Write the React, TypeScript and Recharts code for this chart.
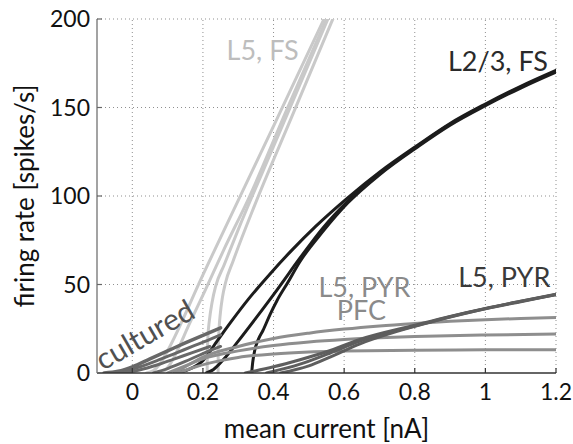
import React from 'react';
import { LineChart, Line, XAxis, YAxis, ReferenceLine, ReferenceDot } from 'recharts';

// ---------- axis ticks ----------
const X_TICKS = [0, 0.2, 0.4, 0.6, 0.8, 1, 1.2];
const Y_TICKS = [0, 50, 100, 150, 200];

// ---------- curves: [mean current (nA), firing rate (spikes/s)] ----------
type P = [number, number];

// L5, FS (light gray)
const l5fs1: P[] = [[0.04, 0], [0.06, 1.4], [0.08, 5.6], [0.1, 12.6], [0.2, 55.5], [0.3, 97.5], [0.4, 139.5], [0.543, 200]];
const l5fs2: P[] = [[0.075, 0], [0.091, 1.2], [0.106, 4.6], [0.122, 10.4], [0.16, 27], [0.207, 47], [0.26, 70], [0.328, 98], [0.44, 150], [0.55, 200]];
const l5fs3: P[] = [[0.212, 0], [0.2123, 10], [0.214, 20], [0.2185, 30], [0.226, 40], [0.236, 49], [0.26, 61], [0.3, 81], [0.4, 128], [0.554, 200]];
const l5fs4: P[] = [[0.243, 0], [0.2433, 12], [0.2455, 24], [0.2495, 34], [0.2555, 43], [0.264, 51], [0.285, 63], [0.347, 95], [0.45, 144], [0.568, 200]];

// L2/3, FS (black)
const l23fs1: P[] = [[0.12, 0], [0.16, 2], [0.2, 7], [0.24, 18], [0.28, 29], [0.33, 42], [0.39, 56], [0.45, 69], [0.52, 83], [0.61, 99], [0.7, 113.5], [0.81, 129], [0.9, 141], [1.0, 152], [1.1, 162], [1.2, 171]];
const l23fs2: P[] = [[0.21, 0], [0.23, 2], [0.26, 8], [0.3, 18], [0.35, 31], [0.41, 47], [0.475, 65], [0.54, 82], [0.61, 97], [0.7, 112.5], [0.81, 128.5], [0.9, 140.5], [1.0, 151.5], [1.1, 161.5], [1.2, 170.5]];
const l23fs3: P[] = [[0.338, 0], [0.341, 6], [0.347, 13], [0.357, 19], [0.37, 24], [0.39, 33], [0.41, 41], [0.44, 51], [0.475, 63], [0.54, 80], [0.61, 96], [0.7, 112], [0.81, 128], [0.9, 140], [1.0, 151], [1.1, 161], [1.2, 170]];

// L5, PYR, PFC (medium gray)
const pfc1: P[] = [[0.12, 0], [0.15, 3.5], [0.2, 9], [0.3, 15], [0.4, 19.5], [0.5, 22.5], [0.6, 24.8], [0.7, 26.6], [0.8, 28], [0.9, 29.2], [1.0, 30.1], [1.1, 30.8], [1.2, 31.3]];
const pfc2: P[] = [[0.1, 0], [0.15, 4], [0.2, 8], [0.3, 12.5], [0.4, 15.5], [0.5, 17.5], [0.6, 18.9], [0.7, 19.9], [0.8, 20.6], [1.0, 21.5], [1.2, 22]];
const pfc3: P[] = [[0.13, 0], [0.18, 3.5], [0.25, 7], [0.3, 8.8], [0.4, 10.8], [0.5, 11.9], [0.6, 12.4], [0.8, 12.9], [1.0, 13.1], [1.2, 13.2]];

// L5, PYR (dark gray)
const pyr1: P[] = [[0.32, 0], [0.4, 3.5], [0.475, 7.5], [0.55, 12], [0.645, 19], [0.8, 27], [0.9, 32], [1.0, 36.5], [1.1, 40.5], [1.2, 44.5]];
const pyr2: P[] = [[0.38, 0], [0.475, 5], [0.55, 10.5], [0.645, 18], [0.8, 26.5], [0.9, 31.8], [1.0, 36.3], [1.1, 40.3], [1.2, 44.3]];
const pyr3: P[] = [[0.42, 0], [0.5, 4], [0.56, 9], [0.645, 16.5], [0.75, 23.5], [0.85, 29], [0.95, 34], [1.05, 38.5], [1.2, 44.2]];

// cultured (dark gray)
const cult1: P[] = [[-0.08, 0], [-0.04, 1], [0, 3.5], [0.05, 8], [0.1, 12.5], [0.15, 17], [0.2, 21.3], [0.25, 25.5]];
const cult2: P[] = [[-0.06, 0], [-0.02, 1], [0.02, 3.4], [0.07, 7], [0.12, 11], [0.17, 15], [0.22, 19], [0.25, 21.5]];
const cult3: P[] = [[-0.03, 0], [0.02, 1.7], [0.07, 4.5], [0.12, 8], [0.17, 11.5], [0.22, 15]];
const cult4: P[] = [[0.06, 0], [0.1, 2.5], [0.15, 6.5], [0.2, 11], [0.25, 15]];

const pts = (a: P[]) => a.map(([x, y]) => ({ x, y }));

const FONT = 'Lato, "Noto Sans", sans-serif';

const C_FS = '#c9c9c9';
const C_BLACK = '#1c1c1c';
const C_PFC = '#8e8e8e';
const C_PYR = '#5e5e5e';
const C_CULT = '#686868';
const C_GRID = '#8f8f8f';

const SERIES: { key: string; data: P[]; color: string; width: number }[] = [
  { key: 'l5fs1', data: l5fs1, color: C_FS, width: 3 },
  { key: 'l5fs2', data: l5fs2, color: C_FS, width: 3 },
  { key: 'l5fs3', data: l5fs3, color: C_FS, width: 3 },
  { key: 'l5fs4', data: l5fs4, color: C_FS, width: 3 },
  { key: 'l23fs1', data: l23fs1, color: C_BLACK, width: 3 },
  { key: 'l23fs2', data: l23fs2, color: C_BLACK, width: 3 },
  { key: 'l23fs3', data: l23fs3, color: C_BLACK, width: 3 },
  { key: 'pfc1', data: pfc1, color: C_PFC, width: 3 },
  { key: 'pfc2', data: pfc2, color: C_PFC, width: 3 },
  { key: 'pfc3', data: pfc3, color: C_PFC, width: 3 },
  { key: 'pyr1', data: pyr1, color: C_PYR, width: 3 },
  { key: 'pyr2', data: pyr2, color: C_PYR, width: 3 },
  { key: 'pyr3', data: pyr3, color: C_PYR, width: 3 },
  { key: 'cult1', data: cult1, color: C_CULT, width: 3.5 },
  { key: 'cult2', data: cult2, color: C_CULT, width: 3 },
  { key: 'cult3', data: cult3, color: C_CULT, width: 3 },
  { key: 'cult4', data: cult4, color: C_CULT, width: 3 },
];

const fmtX = (v: number) => (v === 0 ? '0' : v === 1 ? '1' : String(v));

const XTick = (props: any) => {
  const { x, y, payload } = props;
  return (
    <g>
      <line x1={x} y1={y} x2={x} y2={y - 5} stroke="#333" strokeWidth={1.2} />
      <text x={x} y={y + 27} textAnchor="middle" fontSize={23} fill="#111" fontFamily={FONT}>
        {fmtX(payload.value)}
      </text>
    </g>
  );
};

const YTick = (props: any) => {
  const { x, y, payload } = props;
  return (
    <g>
      <line x1={x} y1={y} x2={x + 5} y2={y} stroke="#666" strokeWidth={1.2} />
      <text x={x - 7} y={y + 8} textAnchor="end" fontSize={23} fill="#111" fontFamily={FONT}>
        {payload.value}
      </text>
    </g>
  );
};

const XTitle = () => (
  <text x={326.5} y={438} textAnchor="middle" fontSize={26} fill="#111" fontFamily={FONT}>
    mean current [nA]
  </text>
);

const YTitle = () => (
  <text x={34} y={196} transform="rotate(-90 34 196)" textAnchor="middle" fontSize={26} fill="#111" fontFamily={FONT}>
    firing rate [spikes/s]
  </text>
);

const annot = (text: string, color: string, size: number, rotate = 0) => (props: any) => {
  const vb = props.viewBox || {};
  const x = vb.x ?? 0;
  const y = vb.y ?? 0;
  return (
    <text
      x={x}
      y={y}
      fontSize={size}
      fill={color}
      fontFamily={FONT}
      textAnchor="start"
      transform={rotate ? `rotate(${rotate} ${x} ${y})` : undefined}
    >
      {text}
    </text>
  );
};

export default function App() {
  return (
    <div style={{ position: 'absolute', left: 0, top: 0, width: 573, height: 444, background: '#fff' }}>
      <LineChart width={573} height={444} margin={{ top: 19, right: 17, left: 0, bottom: 0 }}>
        <XAxis
          dataKey="x"
          type="number"
          domain={[-0.1, 1.2]}
          ticks={X_TICKS}
          interval={0}
          allowDataOverflow
          height={71}
          tickSize={0}
          tickMargin={0}
          tickLine={false}
          tick={XTick}
          axisLine={{ stroke: '#333', strokeWidth: 1.5 }}
          label={XTitle}
        />
        <YAxis
          type="number"
          domain={[0, 200]}
          ticks={Y_TICKS}
          interval={0}
          allowDataOverflow
          width={97}
          tickSize={0}
          tickMargin={0}
          tickLine={false}
          tick={YTick}
          axisLine={{ stroke: '#858585', strokeWidth: 1.5 }}
          label={YTitle}
        />
        {X_TICKS.map((v) => (
          <ReferenceLine key={'gx' + v} x={v} stroke={C_GRID} strokeWidth={1} strokeDasharray="1 3" />
        ))}
        {Y_TICKS.filter((v) => v > 0).map((v) => (
          <ReferenceLine key={'gy' + v} y={v} stroke={C_GRID} strokeWidth={1} strokeDasharray="1 3" />
        ))}
        {SERIES.map((s) => (
          <Line
            key={s.key}
            data={pts(s.data)}
            dataKey="y"
            type="monotone"
            stroke={s.color}
            strokeWidth={s.width}
            dot={false}
            activeDot={false}
            isAnimationActive={false}
            strokeLinecap="round"
          />
        ))}
        <ReferenceDot x={0.267} y={176.8} r={0} fill="none" stroke="none" label={annot('L5, FS', '#bdbdbd', 27)} />
        <ReferenceDot x={0.894} y={170.8} r={0} fill="none" stroke="none" label={annot('L2/3, FS', '#2a2a2a', 27)} />
        <ReferenceDot x={0.923} y={48.4} r={0} fill="none" stroke="none" label={annot('L5, PYR', '#3a3a3a', 27)} />
        <ReferenceDot x={0.527} y={43.1} r={0} fill="none" stroke="none" label={annot('L5, PYR', '#8a8a8a', 27)} />
        <ReferenceDot x={0.579} y={30.0} r={0} fill="none" stroke="none" label={annot('PFC', '#8a8a8a', 27)} />
        <ReferenceDot x={-0.083} y={1.1} r={0} fill="none" stroke="none" label={annot('cultured', '#505050', 30, -30)} />
      </LineChart>
    </div>
  );
}
